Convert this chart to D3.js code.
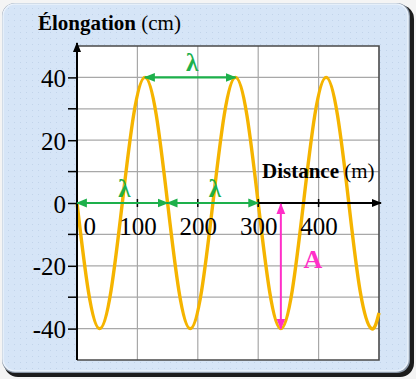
<!DOCTYPE html>
<html><head><meta charset="utf-8">
<script src="https://cdn.jsdelivr.net/npm/d3@7/dist/d3.min.js"></script>
<style>html,body{margin:0;padding:0;background:#f4f4f4;}svg{display:block;}svg text{font-family:"Liberation Serif","Times New Roman",serif;}</style>
</head><body>
<script>
// Data
const waveDistance = [0,18.75,37.5,56.25,75,93.75,112.5,131.25,150,168.75,187.5,206.25,225,243.75,262.5,281.25,300,318.75,337.5,356.25,375,393.75,412.5,431.25,450,468.75,487.5,500];
const waveElongation = [0,-28,-40,-28,0,28,40,28,0,-28,-40,-28,0,28,40,28,0,-28,-40,-28,0,28,40,28,0,-28,-40,-35];
const xTickValues = [0,100,200,300,400];
const yTickValues = [-40,-20,0,20,40];
const yMinorTicks = [-30,-10,10,30];
const xGridValues = [100,200,300,400];
const yGridValues = [-40,-30,-20,-10,10,20,30,40];
const lambdaStart = [112.5, 0, 150];
const lambdaEnd = [262.5, 150, 300];
const lambdaLevel = [40, 0, 0];
const amplitudeDistance = 337.5;
const amplitudeFrom = 0;
const amplitudeTo = -40;

const SERIF = "'Liberation Serif','Times New Roman',serif";
const W = 416, H = 379;
const svg = d3.select("body").append("svg").attr("width", W).attr("height", H);
const defs = svg.append("defs");

// dot pattern for panel background
const pat = defs.append("pattern").attr("id","dots").attr("width",6).attr("height",6).attr("patternUnits","userSpaceOnUse");
pat.append("rect").attr("width",6).attr("height",6).attr("fill","#d6e5f7");
pat.append("rect").attr("x",2).attr("y",2).attr("width",1).attr("height",1).attr("fill","#c2d4ea");

function marker(id, color, size) {
  defs.append("marker").attr("id", id).attr("viewBox","0 0 10 10")
    .attr("refX", 9).attr("refY", 5).attr("markerWidth", size).attr("markerHeight", size)
    .attr("markerUnits","userSpaceOnUse").attr("orient","auto-start-reverse")
    .append("path").attr("d","M0,1 L10,5 L0,9 Z").attr("fill", color);
}
marker("gArrow", "#1db04b", 11);
marker("pArrow", "#ff2fc8", 11);
marker("kArrow", "#000", 10);

// panel frame
svg.append("rect").attr("x",4).attr("y",5).attr("width",410).attr("height",372).attr("rx",14).attr("fill","#1c1c1c");
svg.append("rect").attr("x",2).attr("y",3).attr("width",408).attr("height",370).attr("rx",13).attr("fill","#8b98a8");
svg.append("rect").attr("x",3).attr("y",4).attr("width",405).attr("height",367).attr("rx",12).attr("fill","url(#dots)")
  .attr("stroke","#eaf2fc").attr("stroke-width",1.5);

const margin = {left: 77, top: 46, right: 379, bottom: 360};
const x = d3.scaleLinear().domain([0, 500]).range([margin.left, margin.right]);
const y = d3.scaleLinear().domain([-50, 50]).range([margin.bottom, margin.top]);

// plot area
svg.append("rect").attr("x", margin.left).attr("y", margin.top)
  .attr("width", margin.right - margin.left).attr("height", margin.bottom - margin.top).attr("fill","#fff");

// grid
const grid = svg.append("g").attr("stroke","#a8a8a8").attr("stroke-width",1.2);
grid.selectAll("line.v").data(xGridValues).join("line")
  .attr("x1", d => x(d)).attr("x2", d => x(d)).attr("y1", margin.top).attr("y2", margin.bottom);
grid.selectAll("line.h").data(yGridValues).join("line")
  .attr("x1", margin.left).attr("x2", margin.right).attr("y1", d => y(d)).attr("y2", d => y(d));

// plot border (top, right, bottom)
svg.append("path").attr("d", `M${margin.left},${margin.top}H${margin.right}V${margin.bottom}H${margin.left}`)
  .attr("fill","none").attr("stroke","#4a4a4a").attr("stroke-width",1.6);

// wave
const line = d3.line().x(d => x(d[0])).y(d => y(d[1])).curve(d3.curveNatural);
svg.append("path").datum(waveDistance.map((d,i) => [d, waveElongation[i]]))
  .attr("d", line).attr("fill","none").attr("stroke","#f5b400").attr("stroke-width",3.4);

// y axis
const yAxis = d3.axisLeft(y).tickValues(yTickValues).tickSize(9).tickPadding(0).tickFormat(d => String(d));
const gy = svg.append("g").attr("transform", `translate(${margin.left},0)`).call(yAxis)
  .attr("font-family", SERIF).attr("font-size", 25);
gy.select(".domain").remove();
gy.selectAll(".tick line").attr("stroke","#000").attr("stroke-width",1.5);
gy.selectAll(".tick text").attr("x", -11).attr("dy", null).attr("y", 9).attr("fill","#000");
svg.append("g").selectAll("line").data(yMinorTicks).join("line")
  .attr("x1", margin.left - 9).attr("x2", margin.left).attr("y1", d => y(d)).attr("y2", d => y(d))
  .attr("stroke","#000").attr("stroke-width",1.5);
svg.append("line").attr("x1", margin.left).attr("x2", margin.left).attr("y1", margin.bottom).attr("y2", margin.top - 3)
  .attr("stroke","#000").attr("stroke-width",2).attr("marker-end","url(#kArrow)");

// x axis at 0
const xAxis = d3.axisBottom(x).tickValues(xTickValues).tickSize(0).tickPadding(0).tickFormat(d => String(d));
const gx = svg.append("g").attr("transform", `translate(0,${y(0)})`).call(xAxis)
  .attr("font-family", SERIF).attr("font-size", 25);
gx.select(".domain").remove();
gx.selectAll(".tick text").attr("y", 32).attr("dy", null).attr("fill","#000")
  .attr("text-anchor", d => d === 0 ? "start" : "middle")
  .attr("x", d => d === 0 ? 6 : 0);
svg.append("g").selectAll("line").data(xGridValues).join("line")
  .attr("x1", d => x(d)).attr("x2", d => x(d)).attr("y1", y(0) - 4).attr("y2", y(0) + 4)
  .attr("stroke","#000").attr("stroke-width",1.5);
svg.append("line").attr("x1", margin.left).attr("x2", margin.right + 2).attr("y1", y(0)).attr("y2", y(0))
  .attr("stroke","#000").attr("stroke-width",2).attr("marker-end","url(#kArrow)");

// lambda arrows
const lam = svg.append("g");
lambdaStart.forEach((s, i) => {
  lam.append("line").attr("x1", x(s)).attr("x2", x(lambdaEnd[i])).attr("y1", y(lambdaLevel[i])).attr("y2", y(lambdaLevel[i]))
    .attr("stroke","#1db04b").attr("stroke-width",2.2)
    .attr("marker-start","url(#gArrow)").attr("marker-end","url(#gArrow)");
  lam.append("text").attr("x", x((s + lambdaEnd[i]) / 2) + 2).attr("y", y(lambdaLevel[i]) - 6)
    .attr("text-anchor","middle").attr("font-family", SERIF)
    .attr("font-weight","bold").attr("font-size",25).attr("fill","#1db04b").text("λ");
});

// amplitude arrow
svg.append("line").attr("x1", x(amplitudeDistance)).attr("x2", x(amplitudeDistance))
  .attr("y1", y(amplitudeFrom) + 1).attr("y2", y(amplitudeTo))
  .attr("stroke","#ff2fc8").attr("stroke-width",2)
  .attr("marker-start","url(#pArrow)").attr("marker-end","url(#pArrow)");
svg.append("text").attr("x", x(amplitudeDistance) + 32).attr("y", y(-20) + 2)
  .attr("text-anchor","middle").attr("font-family", SERIF)
  .attr("font-weight","bold").attr("font-size",26).attr("fill","#ff2fc8").text("A");

// axis titles
const t1 = svg.append("text").attr("x", 38).attr("y", 30)
  .attr("font-family", SERIF).attr("font-size",21).attr("fill","#000");
t1.append("tspan").attr("font-weight","bold").text("Élongation");
t1.append("tspan").text(" (cm)");
const t2 = svg.append("text").attr("x", 262).attr("y", 178)
  .attr("font-family", SERIF).attr("font-size",21).attr("fill","#000");
t2.append("tspan").attr("font-weight","bold").text("Distance");
t2.append("tspan").text(" (m)");
</script>
</body></html>
